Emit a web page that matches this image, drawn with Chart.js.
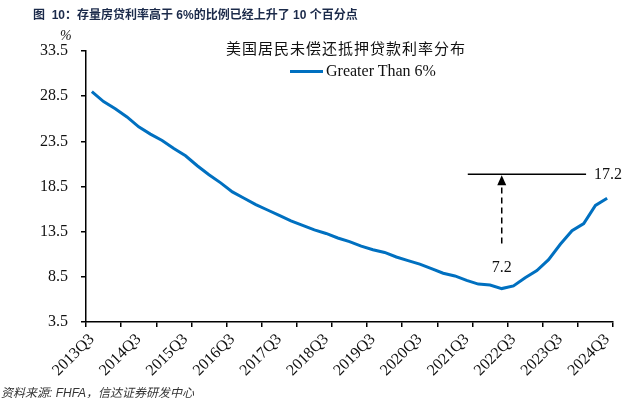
<!DOCTYPE html>
<html>
<head>
<meta charset="utf-8">
<script src="https://cdn.jsdelivr.net/npm/chart.js@4/dist/chart.umd.min.js"></script>
<style>
  body { margin: 0; background: #fff; }
  #wrap { position: relative; width: 632px; height: 398px; overflow: hidden; }
  #chart { position: absolute; left: 0; top: 0; }
  .header { position: absolute; left: 33px; top: 5px; font: bold 12px "Liberation Sans", "Noto Sans CJK SC", sans-serif; color: #1b2a4a; white-space: nowrap; }
  .source { position: absolute; left: 1px; top: 383px; font: italic 12px "Liberation Sans", "Noto Sans CJK SC", sans-serif; color: #333; white-space: nowrap; }
  .ctitle { position: absolute; left: 226px; top: 37px; width: 240px; text-align: center; font: 15px "Noto Sans CJK SC", serif; letter-spacing: 1px; color: #111; white-space: nowrap; }
  .legend { position: absolute; left: 290px; top: 62px; font: 16px "Liberation Serif", serif; color: #111; white-space: nowrap; }
  .legend span.swatch { display: inline-block; width: 33px; height: 3px; background: #0070c0; vertical-align: middle; margin-right: 3px; position: relative; top: -1px; }
  .unit { position: absolute; left: 60px; top: 28px; font: italic 14px "Liberation Serif", serif; color: #111; }
</style>
</head>
<body>
<div id="wrap">
  <canvas id="chart" width="632" height="398"></canvas>
  <div class="header">图&nbsp;&nbsp;10：存量房贷利率高于 6%的比例已经上升了 10 个百分点</div>
  <div class="ctitle">美国居民未偿还抵押贷款利率分布</div>
  <div class="legend"><span class="swatch"></span>Greater Than 6%</div>
  <div class="unit">%</div>
  <div class="source">资料来源: FHFA，信达证券研发中心</div>
</div>
<script>
// 季度标签 2013Q3 - 2024Q3
const quarters = [
  '2013Q3','2013Q4','2014Q1','2014Q2','2014Q3','2014Q4','2015Q1','2015Q2',
  '2015Q3','2015Q4','2016Q1','2016Q2','2016Q3','2016Q4','2017Q1','2017Q2',
  '2017Q3','2017Q4','2018Q1','2018Q2','2018Q3','2018Q4','2019Q1','2019Q2',
  '2019Q3','2019Q4','2020Q1','2020Q2','2020Q3','2020Q4','2021Q1','2021Q2',
  '2021Q3','2021Q4','2022Q1','2022Q2','2022Q3','2022Q4','2023Q1','2023Q2',
  '2023Q3','2023Q4','2024Q1','2024Q2','2024Q3'
];

// Greater Than 6% 占比 (%)
const greaterThan6 = [
  29.0, 27.9, 27.1, 26.2, 25.1, 24.3, 23.6, 22.7, 21.9, 20.8,
  19.8, 18.9, 17.9, 17.2, 16.5, 15.9, 15.3, 14.7, 14.2, 13.7,
  13.3, 12.8, 12.4, 11.9, 11.5, 11.2, 10.7, 10.3, 9.9, 9.4,
  8.9, 8.6, 8.1, 7.7, 7.6, 7.2, 7.5, 8.4, 9.2, 10.4,
  12.1, 13.6, 14.4, 16.4, 17.2
];

const yTicks = [3.5, 8.5, 13.5, 18.5, 23.5, 28.5, 33.5];

// 标注：最低点 7.2 -> 最新 17.2
const markLineLevel = [19.85];
const markLineRange = [32.1, 42.2];
const arrowAt = [35, 12.2];          // [季度索引, 起点值]
const lowLabel = ['7.2', 35, 9.5];   // [文字, 季度索引, 值]
const highLabel = ['17.2'];

const blue = '#0070c0';

const annotatePlugin = {
    id: 'annotate',
    afterDatasetsDraw(chart) {
        const ctx = chart.ctx;
        const x = chart.scales.x, y = chart.scales.y;
        const yl = y.getPixelForValue(markLineLevel[0]);
        const x1 = x.getPixelForValue(markLineRange[0]);
        const x2 = x.getPixelForValue(markLineRange[1]);
        ctx.save();
        ctx.strokeStyle = '#000';
        ctx.fillStyle = '#000';
        ctx.lineWidth = 1.5;
        // 横线
        ctx.beginPath();
        ctx.moveTo(x1, yl);
        ctx.lineTo(x2, yl);
        ctx.stroke();
        // 虚线箭头
        const ax = x.getPixelForValue(arrowAt[0]);
        const ay = y.getPixelForValue(arrowAt[1]);
        ctx.setLineDash([6, 4]);
        ctx.beginPath();
        ctx.moveTo(ax, ay);
        ctx.lineTo(ax, yl + 9);
        ctx.stroke();
        ctx.setLineDash([]);
        ctx.beginPath();
        ctx.moveTo(ax, yl + 1);
        ctx.lineTo(ax - 4.5, yl + 11);
        ctx.lineTo(ax + 4.5, yl + 11);
        ctx.closePath();
        ctx.fill();
        // 数字
        ctx.font = '16px "Liberation Serif", serif';
        ctx.fillStyle = '#111';
        ctx.textBaseline = 'middle';
        ctx.textAlign = 'left';
        ctx.fillText(highLabel[0], x2 + 8, yl);
        ctx.textAlign = 'center';
        ctx.fillText(lowLabel[0], x.getPixelForValue(lowLabel[1]), y.getPixelForValue(lowLabel[2]));
        ctx.restore();
    }
};

const tickFont = { family: '"Liberation Serif", serif', size: 16 };

new Chart(document.getElementById('chart').getContext('2d'), {
    type: 'line',
    data: {
        labels: quarters,
        datasets: [{
            label: 'Greater Than 6%',
            data: greaterThan6,
            borderColor: blue,
            borderWidth: 3,
            pointRadius: 0,
            tension: 0,
            fill: false
        }]
    },
    options: {
        responsive: false,
        animation: false,
        layout: { padding: { top: 51, right: 19, left: 0, bottom: 0 } },
        plugins: {
            legend: { display: false },
            title: { display: false },
            tooltip: { enabled: false }
        },
        scales: {
            x: {
                type: 'category',
                offset: true,
                afterFit(scale) { scale.height = 76; },
                border: { display: true, color: '#000', width: 1.5 },
                grid: {
                    offset: true,
                    drawOnChartArea: false,
                    drawTicks: true,
                    tickLength: 5,
                    lineWidth: 1.5,
                    color: c => (c.index === undefined || c.index % 3 === 0) ? '#000' : 'rgba(0,0,0,0)'
                },
                ticks: {
                    autoSkip: false,
                    minRotation: 45,
                    maxRotation: 45,
                    padding: 3,
                    color: '#111',
                    font: tickFont,
                    callback: function (val, idx) {
                        return idx % 4 === 0 ? this.getLabelForValue(val) : '';
                    }
                }
            },
            y: {
                min: 3.5,
                max: 33.5,
                afterFit(scale) { scale.width = 86; },
                afterBuildTicks(scale) { scale.ticks = yTicks.map(v => ({ value: v })); },
                border: { display: true, color: '#000', width: 1.5 },
                grid: {
                    drawOnChartArea: false,
                    drawTicks: true,
                    tickLength: 5,
                    lineWidth: 1.5,
                    color: '#000'
                },
                ticks: {
                    padding: 13,
                    color: '#111',
                    font: tickFont,
                    callback: v => Number(v).toFixed(1)
                }
            }
        }
    },
    plugins: [annotatePlugin]
});
</script>
</body>
</html>
